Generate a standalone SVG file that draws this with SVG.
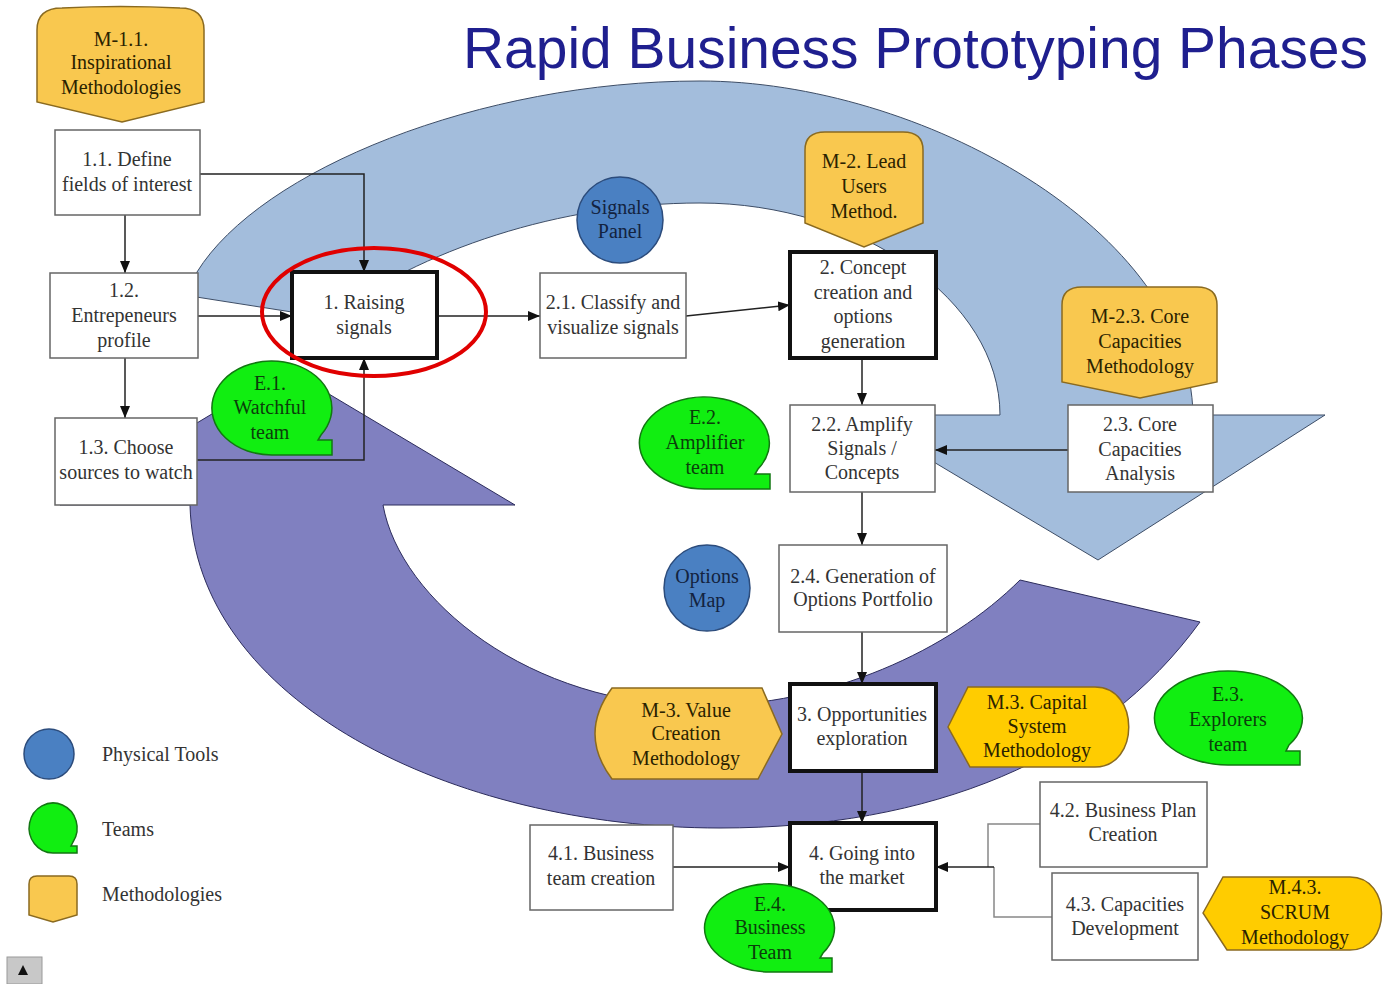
<svg xmlns="http://www.w3.org/2000/svg" width="1387" height="984" viewBox="0 0 1387 984">
<style>
.bg{fill:#fff}
.band1{fill:#a3bddc;stroke:#3d4d66;stroke-width:1}
.band2{fill:#8080c0;stroke:#2c2c5c;stroke-width:1}
.box{fill:#fff;stroke:#666;stroke-width:1.5}
.key{fill:#fff;stroke:#111;stroke-width:4}
.meth{fill:#f9c84f;stroke:#8a6a20;stroke-width:1.5}
.meth2{fill:#ffcc00;stroke:#8a6a20;stroke-width:1.5}
.team{fill:#11ee11;stroke:#127712;stroke-width:1.5}
.tool{fill:#4a80c2;stroke:#2c4c7c;stroke-width:1.5}
.c{fill:none;stroke:#222;stroke-width:1.5;marker-end:url(#ah)}
.cg{fill:none;stroke:#888;stroke-width:1.5}
text{font-family:"Liberation Serif","Times New Roman",serif;font-size:20px;text-anchor:middle;fill:#333}
.tm{fill:#2a2200}
.tt{fill:#0b3d0b}
.tc{fill:#13233f}
.lg{text-anchor:start;fill:#333}
.title{font-family:"Liberation Sans",Arial,sans-serif;font-size:57px;fill:#1f1f8f;text-anchor:start}
</style>
<defs>
<marker id="ah" viewBox="0 0 12 10" refX="12" refY="5" markerWidth="12" markerHeight="10" markerUnits="userSpaceOnUse" orient="auto">
<path d="M0,0 L12,5 L0,10 Z" fill="#111"/>
</marker>
</defs>
<rect class="bg" x="0" y="0" width="1387" height="984"/>
<g id="bands">
<path id="band-blue" class="band1" d="M190,296 L197,272 C260,170 480,81 700,81 C920,81 1190,230 1193,415 L1325,415 L1098,560 L855,415 L1000,415 C1000,300 860,203 700,203 C560,203 420,250 330,318 Z"/>
<path id="band-purple" class="band2" d="M60,505 L287,369 L515,505 L383,505 C400,600 530,706 700,706 C830,706 950,650 1020,580 L1200,622 C1100,760 930,828 720,828 C450,828 195,700 190,505 Z"/>
</g>
<text class="title" x="463" y="68" textLength="905" lengthAdjust="spacingAndGlyphs">Rapid Business Prototyping Phases</text>
<g id="connectors">
<path class="c" d="M125,215 L125,273"/>
<path class="c" d="M125,358 L125,418"/>
<path class="c" d="M200,174 L364,174 L364,272"/>
<path class="c" d="M198,316 L292,316"/>
<path class="c" d="M197,460 L364,460 L364,358"/>
<path class="c" d="M437,316 L540,316"/>
<path class="c" d="M686,316 L790,305"/>
<path class="c" d="M862,358 L862,405"/>
<path class="c" d="M1068,450 L935,450"/>
<path class="c" d="M862,492 L862,545"/>
<path class="c" d="M862,632 L862,684"/>
<path class="c" d="M862,771 L862,823"/>
<path class="c" d="M673,867 L790,867"/>
<path class="cg" d="M1040,824 L988,824 L988,867 M1052,917 L994,917 L994,867"/>
<path class="c" d="M994,867 L936,867"/>
</g>
<g id="m11"><path class="meth" d="M37,30 Q37,8 62,8 Q120,5 180,8 Q204,8 204,30 L204,102 L122,122 L37,102 Z"/>
<text class="tm" x="121" y="46">M-1.1.</text><text class="tm" x="121" y="69">Inspirational</text><text class="tm" x="121" y="94">Methodologies</text></g>
<g id="n11"><rect class="box" x="55" y="130" width="145" height="85"/><text x="127" y="166">1.1. Define</text><text x="127" y="191">fields of interest</text></g>
<g id="n12"><rect class="box" x="50" y="273" width="148" height="85"/><text x="124" y="297">1.2.</text><text x="124" y="322">Entrepeneurs</text><text x="124" y="347">profile</text></g>
<g id="n13"><rect class="box" x="55" y="418" width="142" height="87"/><text x="126" y="454">1.3. Choose</text><text x="126" y="479">sources to watch</text></g>
<g id="n1"><rect class="key" x="292" y="272" width="145" height="86"/><text x="364" y="309">1. Raising</text><text x="364" y="334">signals</text></g>
<g id="e1"><path class="team" d="M272,455 A60,47 0 1 1 321,435 L318,440 L332,440 L332,455 Z"/><text class="tt" x="270" y="390">E.1.</text><text class="tt" x="270" y="414">Watchful</text><text class="tt" x="270" y="439">team</text></g>
<g id="n21"><rect class="box" x="540" y="273" width="146" height="85"/><text x="613" y="309">2.1. Classify and</text><text x="613" y="334">visualize signals</text></g>
<g id="signals"><circle class="tool" cx="620" cy="220" r="43"/><text class="tc" x="620" y="214">Signals</text><text class="tc" x="620" y="238">Panel</text></g>
<g id="m2"><path class="meth" d="M805,150 Q805,132 825,132 L903,132 Q923,132 923,150 L923,223 L864,247 L805,223 Z"/><text class="tm" x="864" y="168">M-2. Lead</text><text class="tm" x="864" y="193">Users</text><text class="tm" x="864" y="218">Method.</text></g>
<g id="n2"><rect class="key" x="790" y="252" width="146" height="106"/><text x="863" y="274">2. Concept</text><text x="863" y="299">creation and</text><text x="863" y="323">options</text><text x="863" y="348">generation</text></g>
<g id="m23"><path class="meth" d="M1062,305 Q1062,287 1082,287 L1197,287 Q1217,287 1217,305 L1217,382 L1140,398 L1062,382 Z"/><text class="tm" x="1140" y="323">M-2.3. Core</text><text class="tm" x="1140" y="348">Capacities</text><text class="tm" x="1140" y="373">Methodology</text></g>
<g id="n23"><rect class="box" x="1068" y="405" width="145" height="87"/><text x="1140" y="431">2.3. Core</text><text x="1140" y="456">Capacities</text><text x="1140" y="480">Analysis</text></g>
<g id="n22"><rect class="box" x="790" y="405" width="145" height="87"/><text x="862" y="431">2.2. Amplify</text><text x="862" y="455">Signals /</text><text x="862" y="479">Concepts</text></g>
<g id="e2"><path class="team" d="M705,489 A65,46 0 1 1 758,469 L755,474 L770,474 L770,489 Z"/><text class="tt" x="705" y="424">E.2.</text><text class="tt" x="705" y="449">Amplifier</text><text class="tt" x="705" y="474">team</text></g>
<g id="options"><circle class="tool" cx="707" cy="588" r="43"/><text class="tc" x="707" y="583">Options</text><text class="tc" x="707" y="607">Map</text></g>
<g id="n24"><rect class="box" x="779" y="545" width="168" height="87"/><text x="863" y="583">2.4. Generation of</text><text x="863" y="606">Options Portfolio</text></g>
<g id="m3v"><path class="meth" d="M612,688 L762,688 L782,734 L758,779 L612,779 Q578,734 612,688 Z"/><text class="tm" x="686" y="717">M-3. Value</text><text class="tm" x="686" y="740">Creation</text><text class="tm" x="686" y="765">Methodology</text></g>
<g id="n3"><rect class="key" x="790" y="684" width="146" height="87"/><text x="862" y="721">3. Opportunities</text><text x="862" y="745">exploration</text></g>
<g id="m3c"><path class="meth2" d="M948,727 L968,687 L1095,687 C1140,687 1140,767 1095,767 L970,767 Z"/><text class="tm" x="1037" y="709">M.3. Capital</text><text class="tm" x="1037" y="733">System</text><text class="tm" x="1037" y="757">Methodology</text></g>
<g id="e3"><path class="team" d="M1228,765 A74,47 0 1 1 1289,745 L1286,751 L1300,751 L1300,765 Z"/><text class="tt" x="1228" y="701">E.3.</text><text class="tt" x="1228" y="726">Explorers</text><text class="tt" x="1228" y="751">team</text></g>
<g id="n41"><rect class="box" x="530" y="825" width="143" height="85"/><text x="601" y="860">4.1. Business</text><text x="601" y="885">team creation</text></g>
<g id="n4"><rect class="key" x="790" y="823" width="146" height="87"/><text x="862" y="860">4. Going into</text><text x="862" y="884">the market</text></g>
<g id="e4"><path class="team" d="M770,972 A65,44 0 1 1 823,953 L820,958 L832,958 L832,972 Z"/><text class="tt" x="770" y="911">E.4.</text><text class="tt" x="770" y="934">Business</text><text class="tt" x="770" y="959">Team</text></g>
<g id="n42"><rect class="box" x="1040" y="782" width="167" height="85"/><text x="1123" y="817">4.2. Business Plan</text><text x="1123" y="841">Creation</text></g>
<g id="n43"><rect class="box" x="1052" y="873" width="146" height="87"/><text x="1125" y="911">4.3. Capacities</text><text x="1125" y="935">Development</text></g>
<g id="m43"><path class="meth2" d="M1203,913 L1223,877 L1350,877 C1392,877 1392,950 1350,950 L1227,950 Z"/><text class="tm" x="1295" y="894">M.4.3.</text><text class="tm" x="1295" y="919">SCRUM</text><text class="tm" x="1295" y="944">Methodology</text></g>
<g id="legend">
<circle class="tool" cx="49" cy="754" r="25"/><text class="lg" x="102" y="761">Physical Tools</text>
<path class="team" d="M53,853 A24,25 0 1 1 73,842 L71,846 L77,846 L77,853 Z"/><text class="lg" x="102" y="836">Teams</text>
<path class="meth" d="M29,884 Q29,876 37,876 L69,876 Q77,876 77,884 L77,915 L53,922 L29,915 Z"/><text class="lg" x="102" y="901">Methodologies</text>
</g>
<g id="button"><rect x="7" y="957" width="35" height="27" fill="#c8c8c8" stroke="#9a9a9a"/><path d="M18,975 L23,965 L28,975 Z" fill="#111"/></g>
<ellipse id="highlight" cx="374" cy="312" rx="112" ry="64" fill="none" stroke="#e00000" stroke-width="4"/>
</svg>
